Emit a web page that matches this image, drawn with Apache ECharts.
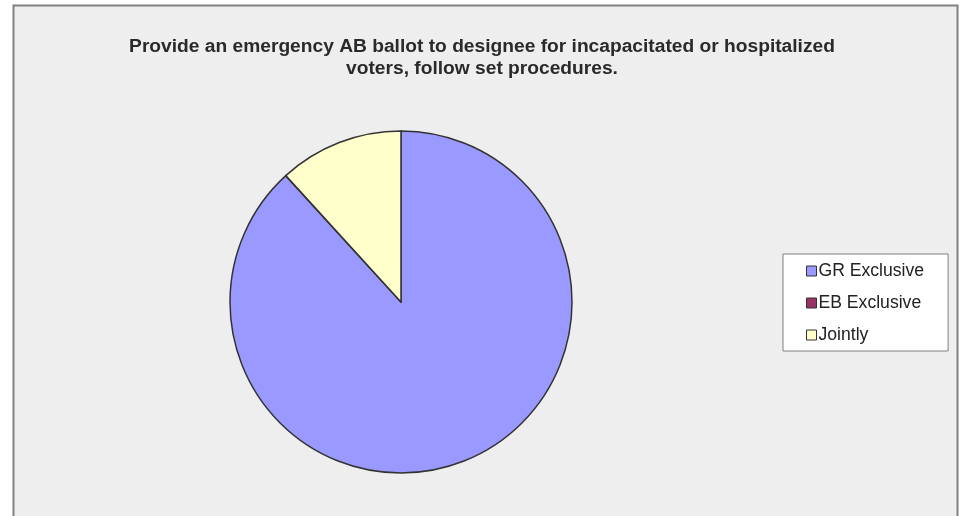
<!DOCTYPE html>
<html>
<head>
<meta charset="utf-8">
<script src="https://cdn.jsdelivr.net/npm/echarts@6/dist/echarts.min.js"></script>
<style>
html,body{margin:0;padding:0;background:#fff;}
#chart{width:961px;height:516px;}
</style>
</head>
<body>
<div id="chart"></div>
<script>
const titleText = "Provide an emergency AB ballot to designee for incapacitated or hospitalized\nvoters, follow set procedures.";
const categories = ["GR Exclusive", "EB Exclusive", "Jointly"];
const values = [15, 0, 2];
const colors = ["#9999FF", "#993366", "#FFFFCC"];

const chart = echarts.init(document.getElementById('chart'), null, {renderer: 'canvas'});
chart.setOption({
  backgroundColor: '#ffffff',
  animation: false,
  graphic: [{
    type: 'rect',
    shape: {x: 13.5, y: 5.5, width: 944, height: 520},
    style: {fill: '#EEEEEE', stroke: '#808080', lineWidth: 2},
    z: -10
  }],
  title: {
    text: titleText,
    left: 477,
    top: 31,
    textAlign: 'center',
    textStyle: {
      fontFamily: 'Liberation Sans, Arial, sans-serif',
      fontSize: 19.2,
      fontWeight: 'bold',
      color: '#2a2a2a',
      lineHeight: 22
    }
  },
  legend: {
    orient: 'vertical',
    left: 783,
    top: 254,
    padding: [7, 24, 6, 23],
    backgroundColor: '#ffffff',
    borderColor: '#808080',
    borderWidth: 1,
    itemWidth: 10,
    itemHeight: 10,
    itemGap: 12,
    icon: 'rect',
    selectedMode: false,
    data: categories,
    itemStyle: {borderColor: '#333333', borderWidth: 1},
    textStyle: {
      fontFamily: 'Liberation Sans, Arial, sans-serif',
      fontSize: 17.6,
      color: '#222222',
      lineHeight: 20,
      padding: [0, 0, 0, -3]
    }
  },
  series: [{
    type: 'pie',
    center: [401, 302],
    radius: 171,
    startAngle: 90,
    clockwise: true,
    label: {show: false},
    labelLine: {show: false},
    emphasis: {disabled: true},
    itemStyle: {borderColor: '#333333', borderWidth: 1.5},
    data: categories.map((c, i) => ({name: c, value: values[i], itemStyle: {color: colors[i]}}))
  }]
});
</script>
</body>
</html>
